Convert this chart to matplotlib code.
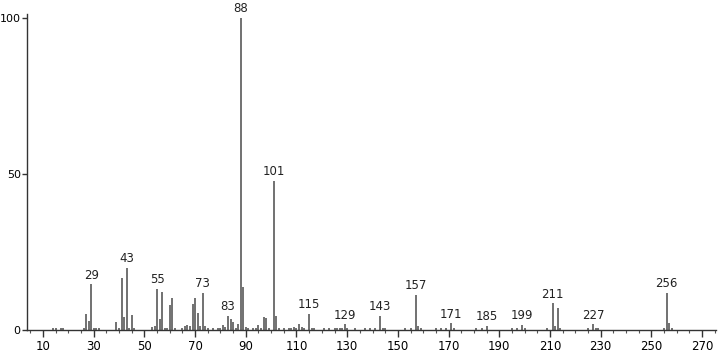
import matplotlib
matplotlib.use('Agg')
import matplotlib.pyplot as plt
from matplotlib.ticker import MultipleLocator

# m/z values and relative intensities
mz = [14, 15, 17, 18, 26, 27, 28, 29, 30, 31, 32, 39, 40, 41, 42, 43, 44, 45, 46,
      53, 54, 55, 56, 57, 58, 59, 60, 61, 62, 65, 66, 67, 68, 69, 70, 71, 72, 73,
      74, 75, 77, 79, 80, 81, 82, 83, 84, 85, 86, 87, 88, 89, 90, 91, 93, 94, 95,
      96, 97, 98, 99, 101, 102, 103, 105, 107, 108, 109, 110, 111, 112, 113, 115,
      116, 117, 121, 123, 125, 126, 127, 128, 129, 130, 133, 137, 139, 141, 143,
      144, 145, 153, 155, 157, 158, 159, 165, 167, 169, 171, 172, 181, 183, 185,
      195, 197, 199, 200, 209, 211, 212, 213, 214, 225, 227, 228, 229, 255, 256,
      257, 258]
intensity = [0.6, 0.5, 0.6, 0.7, 0.6, 5.2, 2.9, 14.6, 0.5, 0.7, 0.6, 2.5, 0.5, 16.6,
             4.3, 19.8, 0.8, 4.8, 0.7, 1.1, 1.4, 13.1, 3.5, 12.1, 0.8, 0.8, 8.0, 10.2,
             0.6, 0.6, 1.2, 1.7, 1.3, 8.2, 10.2, 5.3, 1.2, 12.0, 1.4, 0.8, 0.6, 0.7,
             0.6, 1.5, 1.0, 4.6, 3.4, 2.6, 0.8, 1.9, 100.0, 13.9, 0.9, 0.6, 0.6, 0.5,
             1.7, 0.6, 4.3, 3.7, 0.6, 47.9, 4.6, 0.6, 0.5, 0.7, 0.6, 0.9, 0.5, 1.9,
             0.9, 0.6, 5.1, 0.7, 0.5, 0.5, 0.6, 0.7, 0.6, 0.8, 0.6, 1.8, 0.5, 0.5,
             0.6, 0.7, 0.6, 4.5, 0.8, 0.5, 0.5, 0.5, 11.2, 1.2, 0.6, 0.5, 0.6, 0.6,
             2.1, 0.5, 0.5, 0.6, 1.2, 0.5, 0.6, 1.6, 0.5, 0.7, 8.5, 1.2, 7.0, 0.8,
             0.5, 1.8, 0.7, 0.6, 0.7, 12.0, 2.3, 0.8]
labeled = [29, 43, 55, 73, 83, 88, 101, 115, 129, 143, 157, 171, 185, 199, 211, 227, 256]

fig = plt.figure(figsize=(7.2, 3.52), dpi=100)
ax = fig.add_axes([0.0375, 0.0625, 0.957, 0.8977])

ax.vlines(mz, 0, intensity, color='#4a4a4a', linewidth=1.1)

for m, i in zip(mz, intensity):
    if m in labeled:
        ax.annotate(str(m), (m, i), xytext=(0, 2), textcoords='offset points',
                    ha='center', va='bottom', fontsize=8.5, color='#222222')

ax.set_xlim(3.7, 275.5)
ax.set_ylim(0, 101.3)
ax.set_yticks([0, 50, 100])
ax.set_xticks(range(10, 271, 20))
ax.xaxis.set_minor_locator(MultipleLocator(5))

for s in ['top', 'right']:
    ax.spines[s].set_visible(False)
for s in ['left', 'bottom']:
    ax.spines[s].set_color('#333333')
    ax.spines[s].set_linewidth(1.0)

ax.tick_params(axis='x', which='major', length=5, width=1, color='#333333',
               labelsize=8.5, pad=2)
ax.tick_params(axis='x', which='minor', length=2.5, width=0.8, color='#555555')
ax.tick_params(axis='y', length=3.5, width=1, color='#333333', labelsize=8, pad=1)

fig.savefig('out.png', dpi=100)
